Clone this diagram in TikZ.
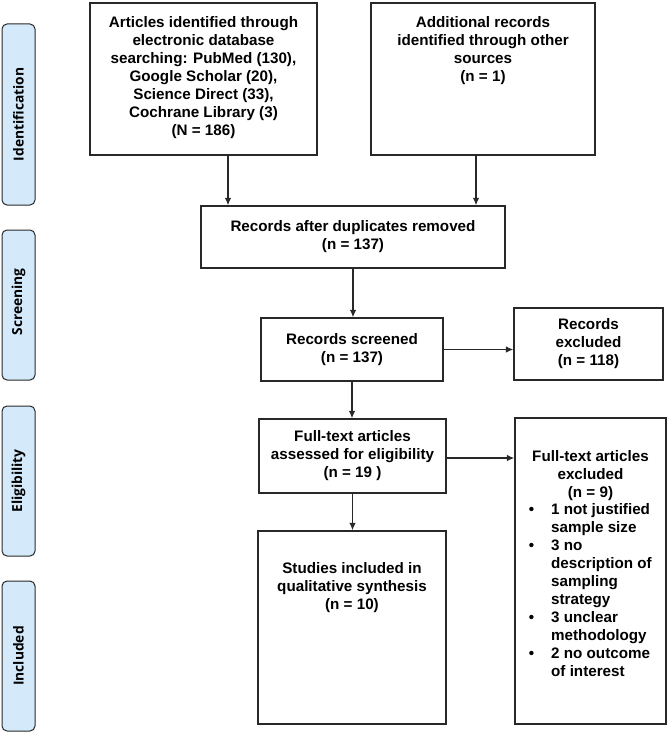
\documentclass[tikz,border=0pt]{standalone}
\usepackage{fontspec}
\setmainfont{Liberation Sans}
\newfontfamily\sidefont{Open Sans}
\usetikzlibrary{arrows.meta,calc}
\definecolor{sideblue}{RGB}{212,234,250}
\definecolor{linegray}{RGB}{40,40,40}
\begin{document}
\begin{tikzpicture}[x=1pt,y=-1pt,
  box/.style={draw=linegray, line width=1.3pt, inner sep=0pt, align=center,
    font=\fontsize{15.2}{18}\selectfont\bfseries},
  txt/.style={align=center, inner sep=0pt, font=\fontsize{15.2}{18}\selectfont\bfseries},
  listtxt/.style={align=left, inner sep=0pt, font=\fontsize{15.2}{18}\selectfont\bfseries},
  side/.style={draw=linegray, fill=sideblue, rounded corners=5pt, line width=1pt,
    minimum width=33pt, inner sep=0pt},
  sidetxt/.style={rotate=90, inner sep=0pt, font=\sidefont\fontsize{13.8}{16}\selectfont\bfseries},
  arr/.style={draw=linegray, line width=1.3pt, -{Latex[length=7.5pt,width=6.5pt]}}]
\useasboundingbox (0,0) rectangle (670,733);

% side labels
\node[side, minimum height=181pt] (sid) at (18.5,114.5) {};
\node[sidetxt] (sidt) at (sid.center) {Identification};
\node[side, minimum height=150pt] (sscr) at (18.5,305) {};
\node[sidetxt] (sscrt) at ([yshift=3pt]sscr.center) {Screening};
\node[side, minimum height=150pt] (selg) at (18.5,481) {};
\node[sidetxt] (selgt) at (selg.center) {Eligibility};
\node[side, minimum height=150pt] (sinc) at (18.5,656) {};
\node[sidetxt] (sinct) at (sinc.center) {Included};

% boxes
\node[box, minimum width=227pt, minimum height=152pt] (a) at (203.5,79) {};
\node[txt, anchor=north] (at) at (203.5,16.5) {Articles identified through\\electronic database\\searching: PubMed (130),\\Google Scholar (20),\\Science Direct (33),\\Cochrane Library (3)\\(N = 186)};
\node[box, minimum width=224pt, minimum height=152pt] (b) at (483,79) {};
\node[txt, anchor=north] (bt) at (483,16.5) {Additional records\\identified through other\\sources\\(n = 1)};

\node[box, minimum width=304pt, minimum height=62pt] (c) at (353,237) {Records after duplicates removed\\(n = 137)};
\node[box, minimum width=182pt, minimum height=63pt] (d) at (352,349.5) {Records screened\\(n = 137)};
\node[box, minimum width=149pt, minimum height=72pt] (e) at (588.5,344) {Records\\excluded\\(n = 118)};
\node[box, minimum width=187pt, minimum height=74pt] (f) at (352.5,456) {Full-text articles\\assessed for eligibility\\(n = 19 )};
\node[box, minimum width=188pt, minimum height=193pt] (g) at (352,627.5) {};
\node[txt, anchor=north] (gt) at (352,562) {Studies included in\\qualitative synthesis\\(n = 10)};
\node[box, minimum width=151pt, minimum height=306pt] (h) at (590.5,571) {};
\node[txt, anchor=north] (ht) at (590.5,450) {Full-text articles\\excluded\\(n = 9)};
\node[listtxt, anchor=north west] (hl) at (551,503) {\llap{\textbullet\hspace{17pt}}1 not justified\\sample size\\\llap{\textbullet\hspace{17pt}}3 no\\description of\\sampling\\strategy\\\llap{\textbullet\hspace{17pt}}3 unclear\\methodology\\\llap{\textbullet\hspace{17pt}}2 no outcome\\of interest};

% connectors
\draw[arr] ([xshift=24.5pt]a.south) -- ([xshift=24.5pt]a.south |- c.north);
\draw[arr] ([xshift=-7pt]b.south) -- ([xshift=-7pt]b.south |- c.north);
\draw[arr] (c.south) -- (c.south |- d.north);
\draw[arr] (d.east) -- (d.east -| e.west);
\draw[arr] (d.south) -- (d.south |- f.north);
\draw[arr] ([yshift=-2pt]f.east) -- ([yshift=-2pt]f.east -| h.west);
\draw[arr] (f.south) -- (f.south |- g.north);
\end{tikzpicture}
\end{document}
